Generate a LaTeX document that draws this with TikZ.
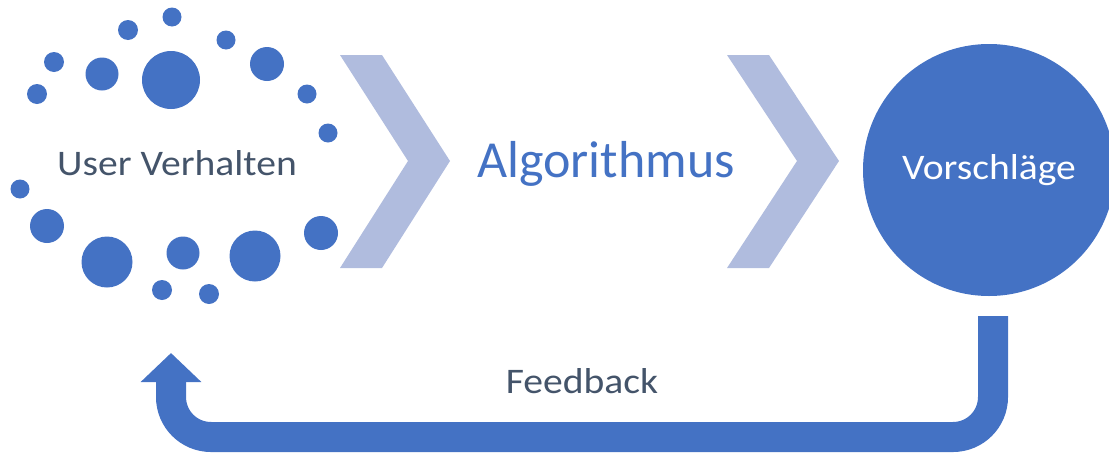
\documentclass[tikz,border=0pt]{standalone}
\usepackage{fontspec}
\setmainfont{Carlito}
\usetikzlibrary{arrows.meta}
\definecolor{mainblue}{RGB}{68,114,196}
\definecolor{chevcol}{RGB}{176,188,222}
\definecolor{slate}{RGB}{68,84,106}
\tikzset{
  dot/.style={fill=mainblue},
  chev/.style={fill=chevcol},
  lbl/.style={anchor=base, inner sep=0pt},
  mid/.style={font=\fontsize{36}{40}\selectfont},
}
\begin{document}
\begin{tikzpicture}[x=1pt,y=-1pt]
\useasboundingbox (0,0) rectangle (1109,453);
% dots
\foreach \cx/\cy/\r in {172/17/9.5, 128/30/10, 226/40/9.5, 54/62/10, 102/74/16.5, 171/80/29, 267/64/17,
  37/94/10, 307/94/9.5, 328/133/9.5, 20/189/9.5, 47/226/17, 107/262/25.5, 183/253/16.5, 255/256/25.5,
  321/233/17, 162/290/10, 209/294/10}
  \fill[dot] (\cx,\cy) circle[radius=\r pt];
\node[lbl, mid, text=slate] (user) at (177,175) {\scalebox{1.1}[1]{User Verhalten}};
% chevrons
\fill[chev] (340,55) -- (382,55) -- (450,161) -- (382,268) -- (340,268) -- (408,161) -- cycle;
\fill[chev] (727,55) -- (769,55) -- (839,161) -- (769,268) -- (727,268) -- (797,161) -- cycle;
\node[lbl, text=mainblue, font=\fontsize{52}{56}\selectfont] (algo) at (606,177) {Algorithmus};
% Vorschlaege
\node[circle, fill=mainblue, minimum size=252pt, inner sep=0pt, text=white, mid] (vor) at (989,170) {\scalebox{1.1}[1]{Vorschläge}};
% feedback arrow
\coordinate (fbstart) at (993,316);
\coordinate (fbend) at (171,353);
\draw[mainblue, line width=30pt, rounded corners=40pt, -{Triangle[length=29pt,width=59pt]}]
  (fbstart) -- (993,437) -- (171,437) -- (fbend);
\node[lbl, mid, text=slate] (fb) at (582,393) {\scalebox{1.1}[1]{Feedback}};
\end{tikzpicture}
\end{document}
